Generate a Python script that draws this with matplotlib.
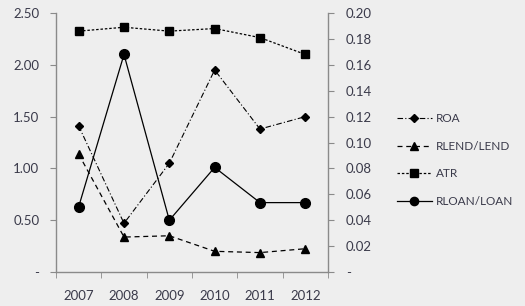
import matplotlib
matplotlib.use("Agg")
import matplotlib.pyplot as plt
from matplotlib.ticker import FixedLocator, FuncFormatter

years = ["2007", "2008", "2009", "2010", "2011", "2012"]
roa = [1.41, 0.47, 1.05, 1.95, 1.38, 1.50]
rloan_loan = [0.63, 2.10, 0.50, 1.01, 0.67, 0.67]
rlend_lend = [0.091, 0.027, 0.028, 0.016, 0.015, 0.018]
atr = [0.186, 0.189, 0.186, 0.188, 0.181, 0.168]

left_ticks = [0, 0.5, 1.0, 1.5, 2.0, 2.5]
right_ticks = [0, 0.02, 0.04, 0.06, 0.08, 0.10, 0.12, 0.14, 0.16, 0.18, 0.20]

bg = "#eeeeee"
txt = "#3a3a4a"
spine = "#8a8a8a"
plt.rcParams['font.family'] = ['Lato', 'DejaVu Sans']

fig = plt.figure(figsize=(5.25, 3.06), dpi=100, facecolor=bg)
ax = fig.add_axes([0.1067, 0.111, 0.518, 0.8465], facecolor=bg)
ax2 = ax.twinx()

x = list(range(len(years)))
l1, = ax.plot(x, roa, color="black", lw=0.8, ls=(0, (5, 2, 1, 2)), marker="D", ms=4.5, label="ROA")
l2, = ax2.plot(x, rlend_lend, color="black", lw=0.9, ls=(0, (4, 3)), marker="^", ms=6, label="RLEND/LEND")
l3, = ax2.plot(x, atr, color="black", lw=0.9, ls=(0, (2, 1.5)), marker="s", ms=6, label="ATR")
l4, = ax.plot(x, rloan_loan, color="black", lw=0.9, ls="-", marker="o", ms=7, label="RLOAN/LOAN")

ax.set_xlim(-0.5, len(years) - 0.5)
ax.set_ylim(0, 2.5)
ax2.set_ylim(0, 0.2)

ax.set_xticks(x)
ax.set_xticklabels(years)
ax.tick_params(axis="x", which="major", length=0, pad=13, labelsize=9.5, labelcolor=txt)
ax.xaxis.set_minor_locator(FixedLocator([i - 0.5 for i in range(len(years) + 1)]))
ax.tick_params(axis="x", which="minor", length=4, color=spine, direction="out")

ax.yaxis.set_major_locator(FixedLocator(left_ticks))
ax.yaxis.set_major_formatter(FuncFormatter(lambda v, p: "-" if v == 0 else f"{v:.2f}"))
ax.tick_params(axis="y", length=4, color=spine, pad=8, labelsize=9.5, labelcolor=txt)

ax2.yaxis.set_major_locator(FixedLocator(right_ticks))
ax2.yaxis.set_major_formatter(FuncFormatter(lambda v, p: "-" if v == 0 else f"{v:.2f}"))
ax2.tick_params(axis="y", length=4, color=spine, pad=9, labelsize=9.5, labelcolor=txt)

for a in (ax, ax2):
    a.spines["top"].set_visible(False)
    for s in ("left", "right", "bottom"):
        a.spines[s].set_color(spine)
        a.spines[s].set_linewidth(1.0)
ax.spines["right"].set_visible(False)
ax2.spines["left"].set_visible(False)
ax2.spines["bottom"].set_visible(False)

leg = fig.legend(handles=[l1, l2, l3, l4], loc="upper left", bbox_to_anchor=(0.735, 0.665),
                 frameon=False, fontsize=8.5, labelspacing=1.4, handlelength=3.0,
                 handletextpad=0.35, markerscale=0.85)
for t in leg.get_texts():
    t.set_color(txt)

fig.savefig("out.png", dpi=100, facecolor=bg)
